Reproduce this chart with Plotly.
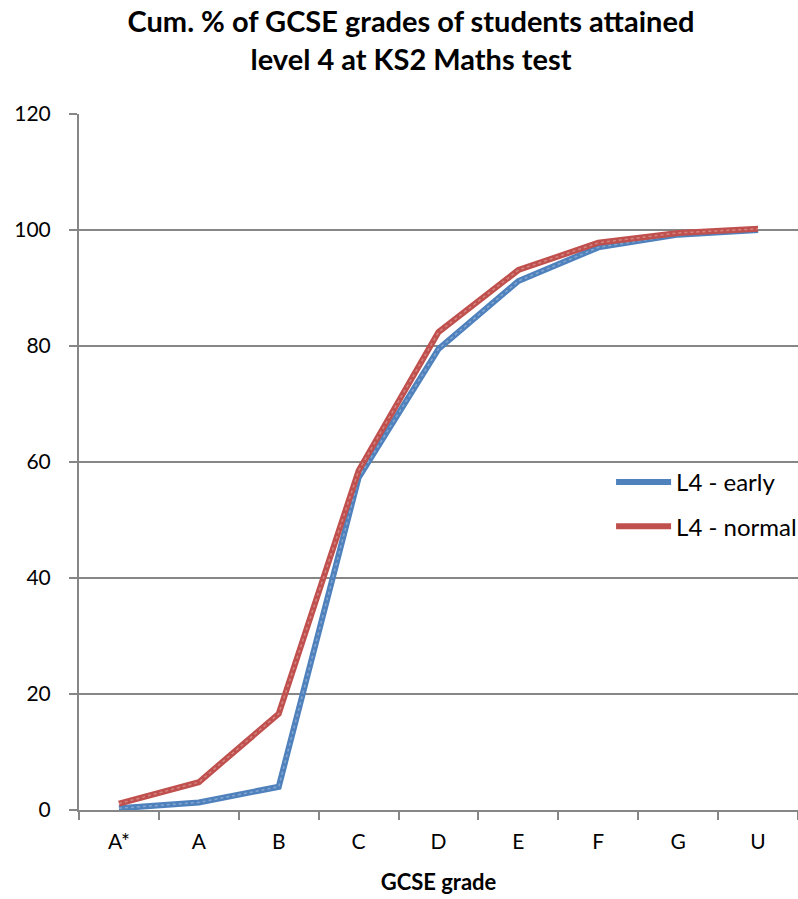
import plotly.graph_objects as go

# Cumulative percentage of GCSE grades, by KS2 level-4 entry timing
grades = ["A*", "A", "B", "C", "D", "E", "F", "G", "U"]
l4_early = [0.3, 1.3, 4.0, 57.3, 79.5, 91.2, 97.0, 99.2, 100.0]
l4_normal = [1.1, 4.8, 16.6, 58.5, 82.4, 93.1, 97.8, 99.5, 100.2]

BLUE = "#4F81BD"
RED = "#C0504D"
GRID = "#868686"
FONT = "Lato, 'Open Sans', sans-serif"

fig = go.Figure()
for name, vals, col in [("L4 - early", l4_early, BLUE), ("L4 - normal", l4_normal, RED)]:
    fig.add_trace(go.Scatter(x=grades, y=vals, name=name, mode="lines", legendgroup=name,
                             line=dict(color=col, width=6)))
    # light dotted sheen along each series line
    fig.add_trace(go.Scatter(x=grades, y=vals, mode="lines", showlegend=False,
                             hoverinfo="skip", legendgroup=name,
                             line=dict(color="rgba(255,255,255,0.3)", width=1.5, dash="dot")))

fig.update_layout(
    width=798, height=899,
    margin=dict(l=79, r=0, t=114, b=89, autoexpand=False),
    paper_bgcolor="white", plot_bgcolor="white",
    font=dict(family=FONT, color="black"),
    title=dict(text="<b>Cum. % of GCSE grades of students attained<br>level 4 at KS2 Maths test</b>",
               x=0.515, xanchor="center", y=0.964, yanchor="middle",
               font=dict(size=29, family=FONT)),
    showlegend=True,
    legend=dict(x=0.74, y=0.503, xanchor="left", yanchor="top",
                bgcolor="rgba(0,0,0,0)", font=dict(size=24, family=FONT),
                tracegroupgap=10, itemwidth=55),
    xaxis=dict(
        title=dict(text="<b>GCSE grade</b>", font=dict(size=22, family=FONT), standoff=22),
        tickfont=dict(size=21, family=FONT),
        ticklabelstandoff=12,
        showgrid=False, showline=True, linecolor=GRID, linewidth=2,
        ticks="outside", ticklen=8, tickcolor=GRID, tickwidth=2,
        tickson="boundaries", range=[-0.5, 8.5],
    ),
    yaxis=dict(
        range=[0, 120], tickvals=[0, 20, 40, 60, 80, 100, 120],
        tickfont=dict(size=21, family=FONT),
        ticklabelstandoff=14,
        showgrid=True, gridcolor=GRID, gridwidth=2,
        showline=True, linecolor=GRID, linewidth=2,
        ticks="outside", ticklen=8, tickcolor=GRID, tickwidth=2,
        zeroline=False,
    ),
)

fig.write_html("out.html")
